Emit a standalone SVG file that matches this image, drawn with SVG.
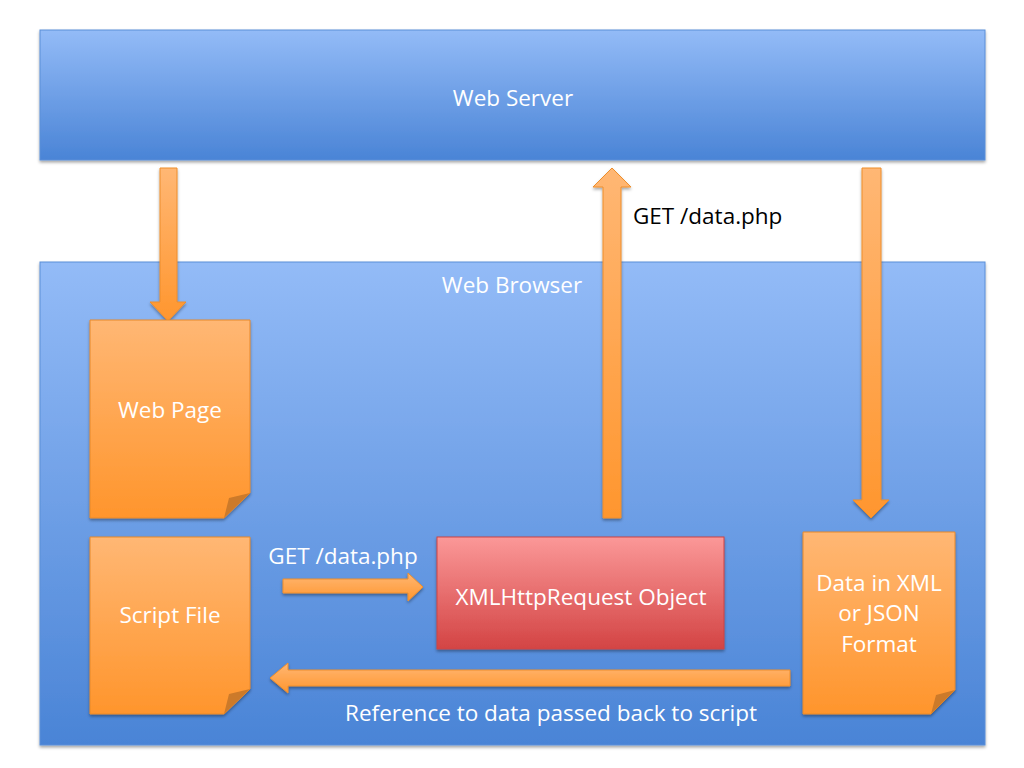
<svg xmlns="http://www.w3.org/2000/svg" width="1024" height="768" viewBox="0 0 1024 768">
<style>
text{font-family:"Open Sans","Liberation Sans",sans-serif;fill:#fff;text-anchor:middle}
.lbl{font-size:22.5px}
.dark{fill:#000;text-anchor:start}
.note{fill:url(#og);stroke:#e8892a;stroke-width:1}
.fold{fill:#cc7a2a}
.arr{stroke:#ee8e2c;stroke-width:1}
</style>
<defs>
<linearGradient id="bg" x1="0" y1="0" x2="0" y2="1"><stop offset="0" stop-color="#93bbf7"/><stop offset="1" stop-color="#4a84d6"/></linearGradient>
<linearGradient id="og" x1="0" y1="0" x2="0" y2="1"><stop offset="0" stop-color="#ffb774"/><stop offset="1" stop-color="#ff952c"/></linearGradient>
<linearGradient id="rg" x1="0" y1="0" x2="0" y2="1"><stop offset="0" stop-color="#fb9898"/><stop offset="1" stop-color="#d34444"/></linearGradient>
<linearGradient id="av" x1="0" y1="0" x2="0" y2="1"><stop offset="0" stop-color="#ffb774"/><stop offset="1" stop-color="#ff962e"/></linearGradient>
<filter id="sh" x="-10%" y="-10%" width="120%" height="130%"><feDropShadow dx="0" dy="2" stdDeviation="1.5" flood-color="#000" flood-opacity="0.35"/></filter>
</defs>
<g id="web-server">
<rect x="40" y="30" width="945" height="130" fill="url(#bg)" stroke="#5a8fd8" stroke-width="1" filter="url(#sh)"/>
<text x="513" y="106" class="lbl">Web Server</text>
</g>
<g id="web-browser">
<rect x="40" y="262" width="945" height="483" fill="url(#bg)" stroke="#5a8fd8" stroke-width="1" filter="url(#sh)"/>
<text x="512" y="293" class="lbl">Web Browser</text>
</g>
<g id="connectors">
<g filter="url(#sh)">
<path class="arr" fill="url(#av)" d="M160,168 H177 V302 H186 L168,321 L150,302 H160 Z"/>
<path class="arr" fill="url(#av)" d="M603,518 V187 H593 L612,168 L631,187 H621 V518 Z"/>
<path class="arr" fill="url(#av)" d="M862,168 H881 V500 H889 L871,518 L853,500 H862 Z"/>
<path class="arr" fill="url(#av)" d="M283,579 H408 V573 L423,587 L408,601 V593 H283 Z"/>
<path class="arr" fill="url(#av)" d="M790,670 H288 V663 L270,678 L288,693 V686 H790 Z"/>
</g>
<text x="343" y="564" class="lbl">GET /data.php</text>
<text x="633" y="224" class="lbl dark">GET /data.php</text>
<text x="551" y="721" class="lbl">Reference to data passed back to script</text>
</g>
<g id="web-page">
<path class="note" filter="url(#sh)" d="M90,320 H250 V493 L224,518 H90 Z"/>
<path class="fold" d="M250,493 L224,518 L229,498 Z"/>
<text x="170" y="418" class="lbl">Web Page</text>
</g>
<g id="script-file">
<path class="note" filter="url(#sh)" d="M90,537 H250 V689 L224,714 H90 Z"/>
<path class="fold" d="M250,689 L224,714 L229,694 Z"/>
<text x="170" y="623" class="lbl">Script File</text>
</g>
<g id="xhr">
<rect x="437" y="537" width="287" height="112" fill="url(#rg)" stroke="#c44" stroke-width="1" filter="url(#sh)"/>
<text x="581" y="605" class="lbl">XMLHttpRequest Object</text>
</g>
<g id="data">
<path class="note" filter="url(#sh)" d="M803,532 H955 V690 L931,714 H803 Z"/>
<path class="fold" d="M955,690 L931,714 L936,695 Z"/>
<text x="879" y="591" class="lbl">Data in XML</text>
<text x="879" y="621" class="lbl">or JSON</text>
<text x="879" y="652" class="lbl">Format</text>
</g>
</svg>
